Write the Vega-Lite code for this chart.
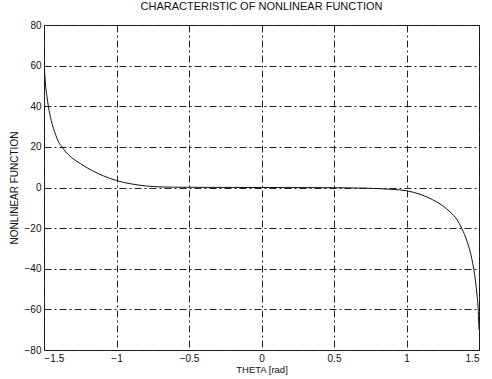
{
  "$schema": "https://vega.github.io/schema/vega-lite/v6.json",
  "width": 435,
  "height": 325,
  "autosize": {"type": "none"},
  "padding": {"left": 44, "top": 25, "right": 13, "bottom": 29},
  "background": "white",
  "title": {
    "text": "CHARACTERISTIC OF NONLINEAR FUNCTION",
    "fontSize": 11,
    "fontWeight": "normal",
    "font": "Liberation Sans",
    "color": "#111",
    "anchor": "middle",
    "offset": 8
  },
  "config": {
    "view": {"stroke": "#111", "strokeWidth": 1},
    "axis": {
      "labelFont": "Liberation Sans",
      "titleFont": "Liberation Sans",
      "labelFontSize": 10,
      "titleFontSize": 9.5,
      "titleFontWeight": "normal",
      "labelColor": "#111",
      "titleColor": "#111",
      "domain": false,
      "ticks": false,
      "grid": true,
      "gridColor": "#222",
      "gridOpacity": 1,
      "gridWidth": 1,
      "gridDash": [7, 3, 2, 3]
    }
  },
  "data": {
    "values": [
      {"theta": -1.5, "f": 62},
      {"theta": -1.49, "f": 51},
      {"theta": -1.48, "f": 45},
      {"theta": -1.47, "f": 40},
      {"theta": -1.45, "f": 33},
      {"theta": -1.42, "f": 26},
      {"theta": -1.4, "f": 22.5},
      {"theta": -1.376, "f": 20},
      {"theta": -1.35, "f": 17.5},
      {"theta": -1.3, "f": 14.2},
      {"theta": -1.25, "f": 11.8},
      {"theta": -1.2, "f": 9.6},
      {"theta": -1.13, "f": 7},
      {"theta": -1.05, "f": 4.6},
      {"theta": -1.0, "f": 3.4},
      {"theta": -0.9, "f": 1.8},
      {"theta": -0.8, "f": 0.8},
      {"theta": -0.7, "f": 0.3},
      {"theta": -0.5, "f": 0.1},
      {"theta": 0.0, "f": 0},
      {"theta": 0.5, "f": -0.1},
      {"theta": 0.7, "f": -0.3},
      {"theta": 0.8, "f": -0.5},
      {"theta": 0.9, "f": -0.9},
      {"theta": 1.0, "f": -1.6},
      {"theta": 1.1, "f": -3.5},
      {"theta": 1.18, "f": -6},
      {"theta": 1.25, "f": -9},
      {"theta": 1.3, "f": -12},
      {"theta": 1.35, "f": -16},
      {"theta": 1.38, "f": -20},
      {"theta": 1.42, "f": -27},
      {"theta": 1.45, "f": -35},
      {"theta": 1.47, "f": -43},
      {"theta": 1.485, "f": -52},
      {"theta": 1.495, "f": -61},
      {"theta": 1.5, "f": -70}
    ]
  },
  "mark": {"type": "line", "color": "#111", "strokeWidth": 1, "clip": true, "interpolate": "monotone"},
  "encoding": {
    "x": {
      "field": "theta",
      "type": "quantitative",
      "scale": {"domain": [-1.5, 1.5], "nice": false, "zero": false},
      "axis": {"values": [-1.5, -1, -0.5, 0, 0.5, 1, 1.5], "title": "THETA [rad]", "labelPadding": 3, "titlePadding": 1, "format": "~g"}
    },
    "y": {
      "field": "f",
      "type": "quantitative",
      "scale": {"domain": [-80, 80], "nice": false},
      "axis": {"values": [-80, -60, -40, -20, 0, 20, 40, 60, 80], "title": "NONLINEAR FUNCTION", "titleFontSize": 10, "labelPadding": 3, "titlePadding": 5}
    }
  }
}
